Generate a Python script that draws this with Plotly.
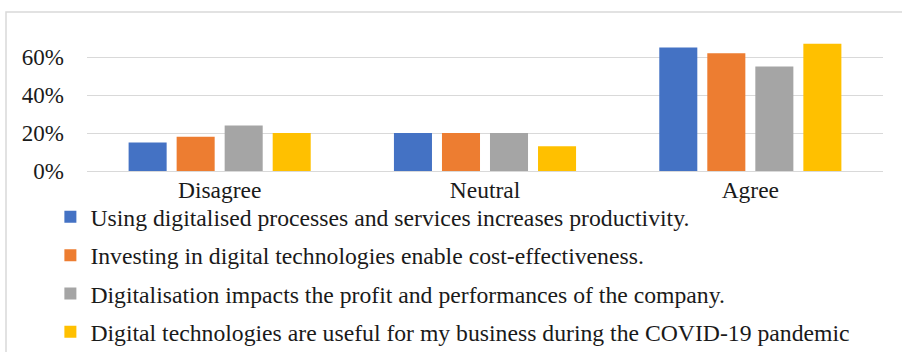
import plotly.graph_objects as go

categories = ["Disagree", "Neutral", "Agree"]
series_names = [
    "Using digitalised processes and services increases productivity.",
    "Investing in digital technologies enable cost-effectiveness.",
    "Digitalisation impacts the profit and performances of the company.",
    "Digital technologies are useful for my business during the COVID-19 pandemic",
]
productivity = [0.15, 0.20, 0.65]
cost_effectiveness = [0.18, 0.20, 0.62]
profit_performance = [0.24, 0.20, 0.55]
covid_usefulness = [0.20, 0.13, 0.67]
series_values = [productivity, cost_effectiveness, profit_performance, covid_usefulness]
colors = ["#4472C4", "#ED7D31", "#A5A5A5", "#FFC000"]
y_ticks = [0, 0.2, 0.4, 0.6]
y_tick_labels = ["0%", "20%", "40%", "60%"]

FONT = "Times New Roman, Liberation Serif, serif"
TEXT_COLOR = "#1a1a1a"

fig = go.Figure()
for i, (name, vals, col) in enumerate(zip(series_names, series_values, colors)):
    fig.add_trace(go.Bar(
        x=categories, y=vals, name=name, marker_color=col,
        marker_line_width=0, legendgroup=f"g{i}",
    ))

fig.update_layout(
    width=902, height=352,
    margin=dict(l=87, r=19, t=38, b=181, autoexpand=False),
    paper_bgcolor="white", plot_bgcolor="white",
    barmode="group", bargap=0.276, bargroupgap=0.208,
    font=dict(family=FONT, color=TEXT_COLOR, size=23.5),
    showlegend=True,
    legend=dict(
        orientation="v", x=-0.046, xanchor="left", y=-0.18, yanchor="top",
        font=dict(family=FONT, size=23.7, color=TEXT_COLOR),
        tracegroupgap=4.5, itemwidth=30, borderwidth=0,
        bgcolor="rgba(0,0,0,0)",
    ),
    xaxis=dict(
        showgrid=False, showline=False, ticks="", automargin=False,
        tickfont=dict(family=FONT, size=23.5, color=TEXT_COLOR),
        ticklabelstandoff=2,
    ),
    yaxis=dict(
        range=[0, 0.7], tickvals=y_ticks, ticktext=y_tick_labels,
        showgrid=True, gridcolor="#d9d9d9", gridwidth=1,
        zeroline=True, zerolinecolor="#d9d9d9", zerolinewidth=1,
        showline=False, ticks="", automargin=False,
        tickfont=dict(family=FONT, size=23, color=TEXT_COLOR),
        ticklabelstandoff=22,
    ),
    shapes=[dict(
        type="rect", xref="paper", yref="paper",
        x0=(6 - 87) / 796, x1=1.2, y0=-2, y1=(171 - 12) / 133,
        line=dict(color="#d9d9d9", width=1.5), fillcolor="rgba(0,0,0,0)",
        layer="below",
    )],
)

fig.write_html("out.html")
